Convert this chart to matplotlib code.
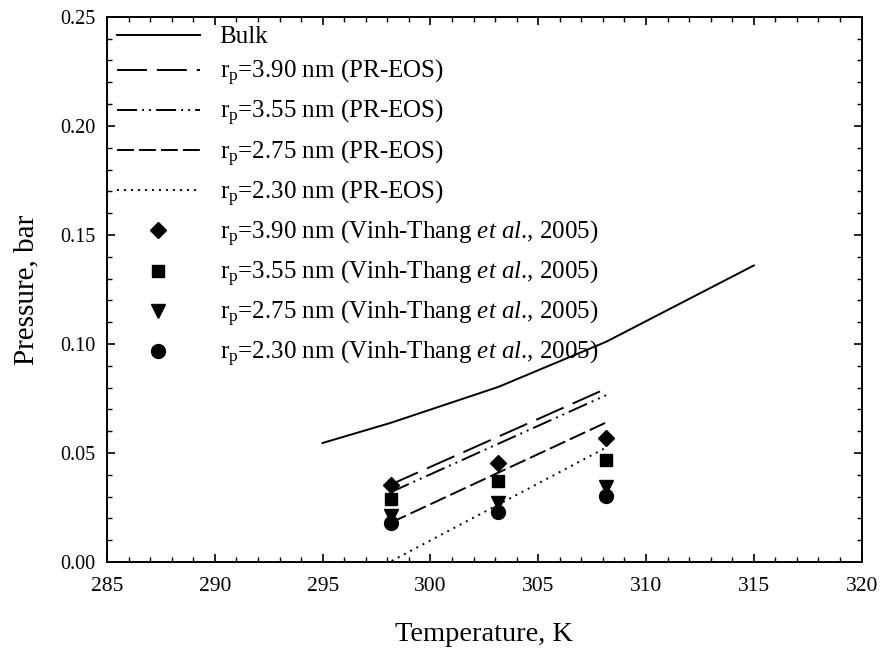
import matplotlib
matplotlib.use("Agg")
import matplotlib.pyplot as plt
from matplotlib.ticker import MultipleLocator

plt.rcParams['font.family'] = ['Liberation Serif', 'DejaVu Serif']
plt.rcParams['mathtext.fontset'] = 'custom'
plt.rcParams['mathtext.rm'] = 'Liberation Serif'
plt.rcParams['mathtext.it'] = 'Liberation Serif:italic'

# Bulk curve
bulk_T = [295, 298.15, 303.15, 308.15, 315]
bulk_P = [0.0546, 0.0638, 0.0803, 0.101, 0.136]

# PR-EOS model lines (confined)
model_T = [298.15, 308.15]
pr_390 = [0.0355, 0.0795]
pr_355 = [0.0320, 0.0765]
pr_275 = [0.0180, 0.0640]
pr_230_T = [298.2, 308.15]
pr_230 = [0.0005, 0.0525]

# Experimental points (Vinh-Thang et al., 2005)
exp_T = [298.15, 303.15, 308.15]
exp_390 = [0.0353, 0.0455, 0.057]
exp_355 = [0.0290, 0.0370, 0.047]
exp_275 = [0.0213, 0.0273, 0.0345]
exp_230 = [0.0180, 0.0230, 0.0305]

fig = plt.figure(figsize=(8.81, 6.49), dpi=100)
ax = fig.add_axes([0.1215, 0.134, 0.8565, 0.84])

lw = 1.4
ax.plot(bulk_T, bulk_P, color="black", lw=lw, label="Bulk")
ax.plot(model_T, pr_390, color="black", lw=lw, dashes=(15.4, 5.1),
        label="r$_\\mathrm{p}$=3.90 nm (PR-EOS)")
ax.plot(model_T, pr_355, color="black", lw=lw, dashes=(10.3, 2.6, 1, 2.6, 1, 2.6),
        label="r$_\\mathrm{p}$=3.55 nm (PR-EOS)")
ax.plot(model_T, pr_275, color="black", lw=lw, dashes=(8.7, 2.6),
        label="r$_\\mathrm{p}$=2.75 nm (PR-EOS)")
ax.plot(pr_230_T, pr_230, color="black", lw=lw, dashes=(1, 2.6),
        label="r$_\\mathrm{p}$=2.30 nm (PR-EOS)")

# mathtext adds a space after "." so keep the period outside the math
ref = "(Vinh-Thang $\\mathit{et\\ al}$., 2005)"
ax.plot(exp_T, exp_390, "D", color="black", ms=8.5, ls="none",
        label="r$_\\mathrm{p}$=3.90 nm " + ref)
ax.plot(exp_T, exp_355, "s", color="black", ms=8.5, ls="none",
        label="r$_\\mathrm{p}$=3.55 nm " + ref)
ax.plot(exp_T, exp_275, "v", color="black", ms=10, ls="none",
        label="r$_\\mathrm{p}$=2.75 nm " + ref)
ax.plot(exp_T, exp_230, "o", color="black", ms=10, ls="none",
        label="r$_\\mathrm{p}$=2.30 nm " + ref)

ax.set_xlim(285, 320)
ax.set_ylim(0, 0.25)
ax.xaxis.set_major_locator(MultipleLocator(5))
ax.xaxis.set_minor_locator(MultipleLocator(1))
ax.yaxis.set_major_locator(MultipleLocator(0.05))
ax.yaxis.set_minor_locator(MultipleLocator(0.01))
ax.yaxis.set_major_formatter(plt.FuncFormatter(lambda v, p: f"{v:.2f}"))
ax.tick_params(which="both", direction="in", top=True, right=True)
ax.tick_params(which="major", length=6, width=1.2)
ax.tick_params(which="minor", length=3.6, width=1)
ax.tick_params(axis="x", pad=10.5, labelsize=15.5)
ax.tick_params(axis="y", pad=8.5, labelsize=14.5)
for s in ax.spines.values():
    s.set_linewidth(1.4)

ax.set_xlabel("Temperature, K", fontsize=20.5, labelpad=19)
ax.set_ylabel("Pressure, bar", fontsize=21, labelpad=15)

ax.legend(loc="upper left", frameon=False, fontsize=18, handlelength=3.3,
          labelspacing=0.4, borderaxespad=0, handletextpad=0.8,
          bbox_to_anchor=(0.0, 1.002))

fig.savefig("out.png", dpi=100)
